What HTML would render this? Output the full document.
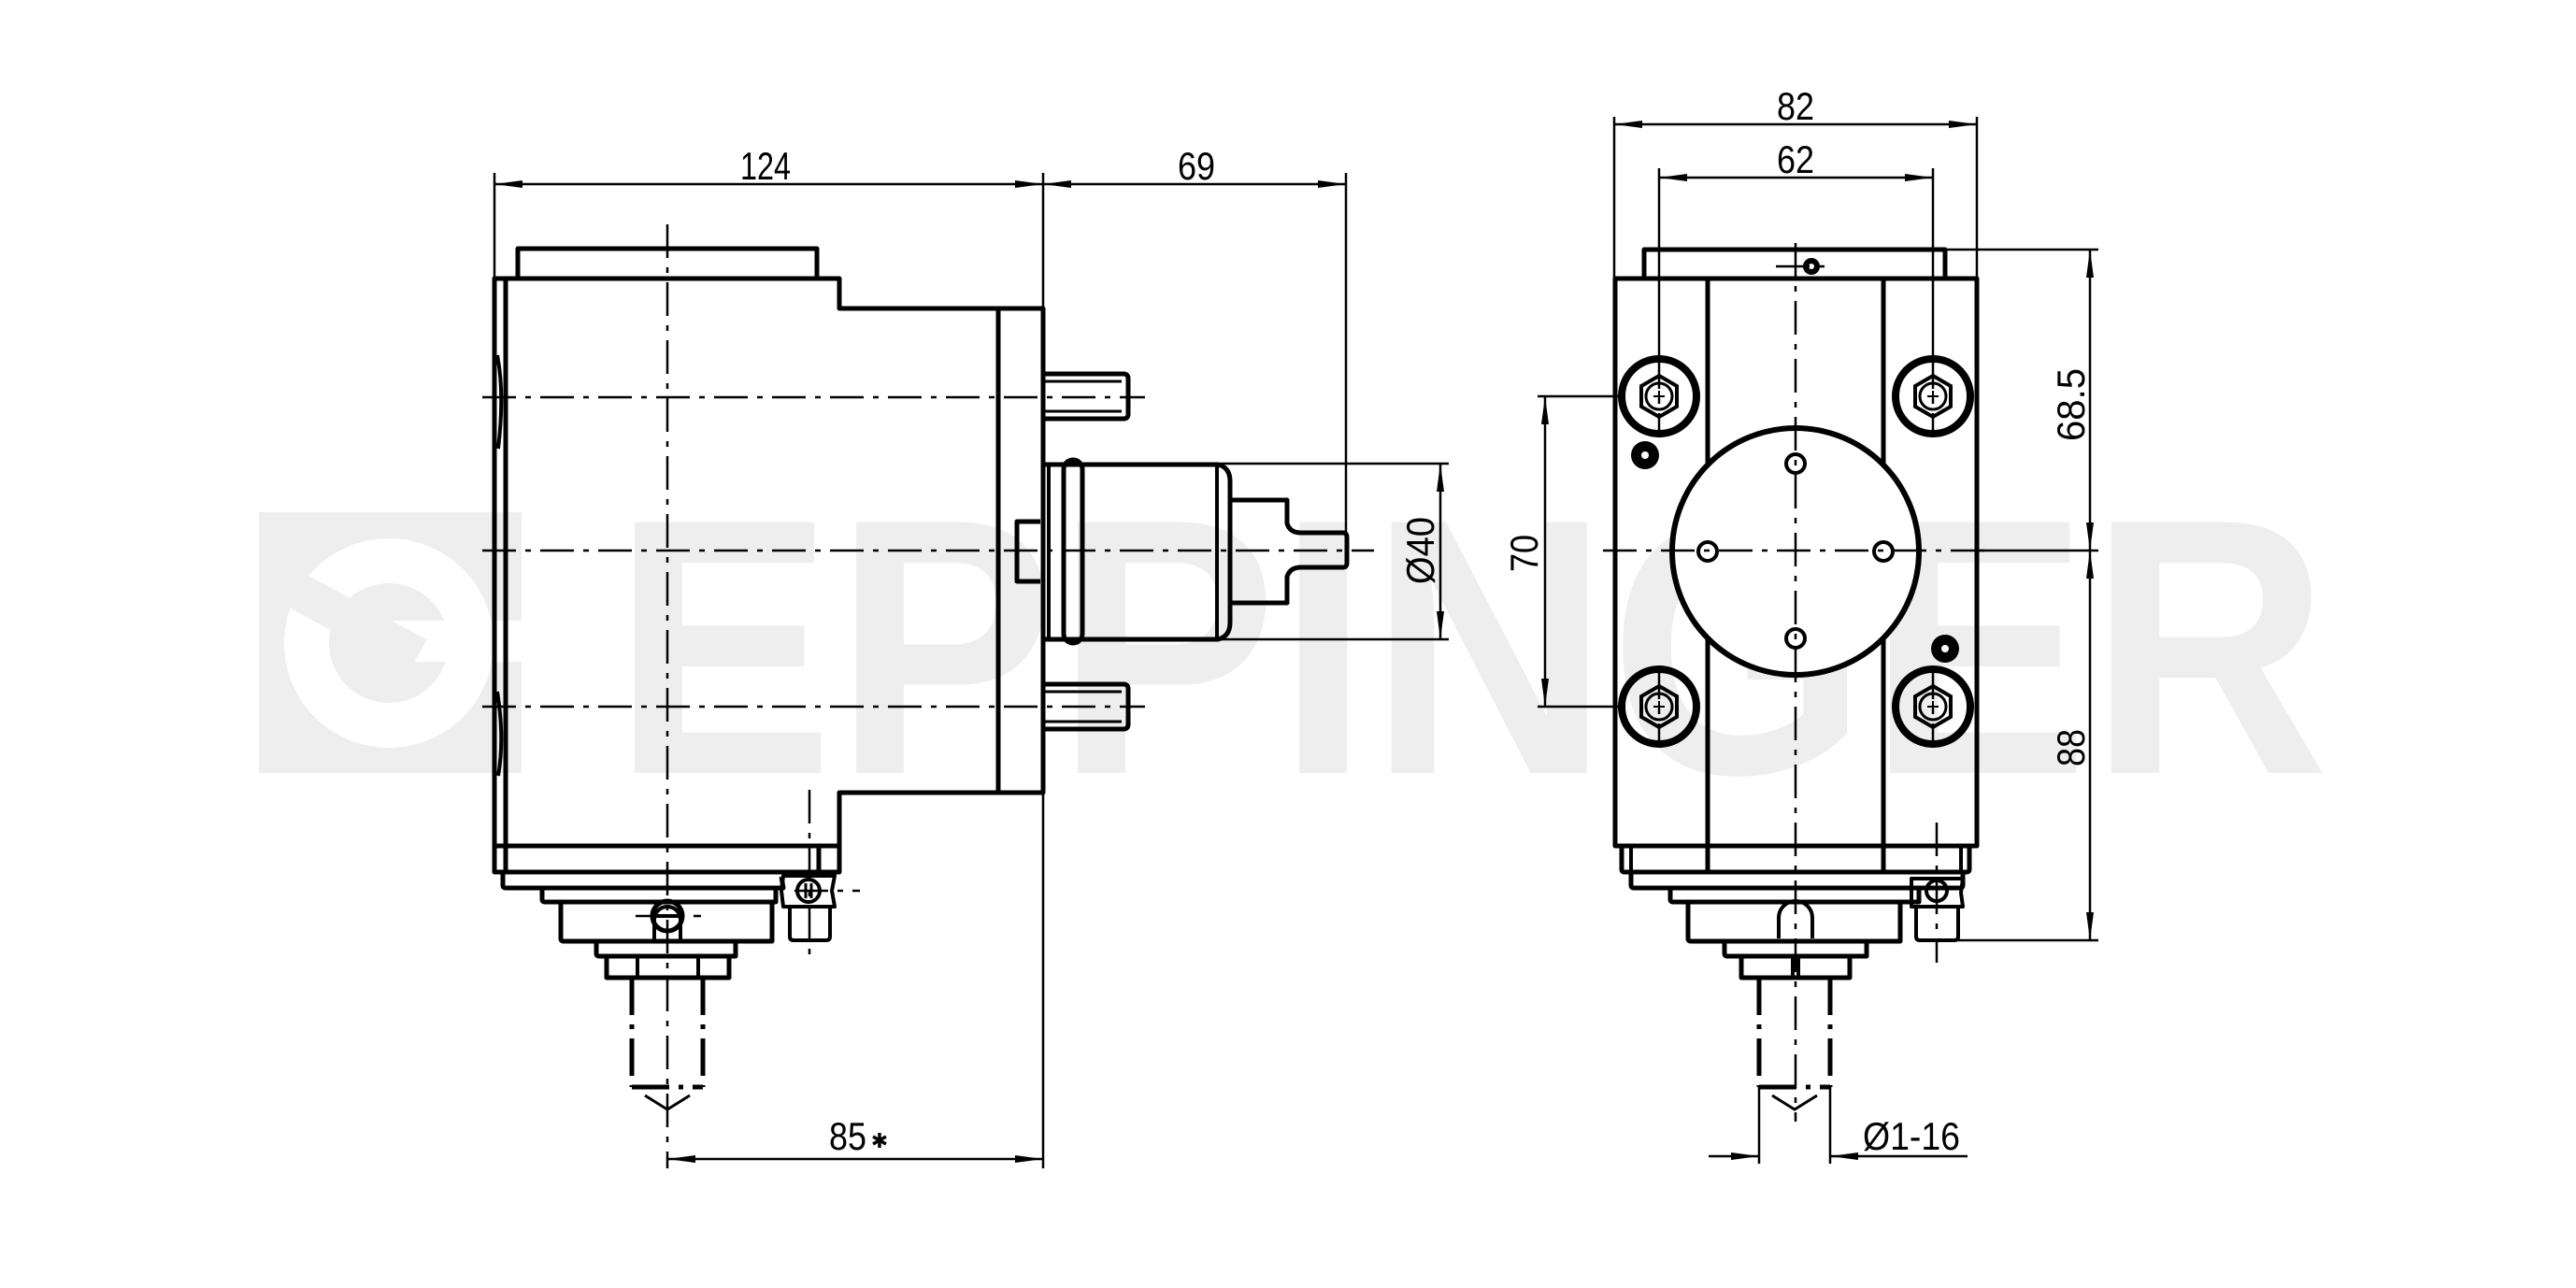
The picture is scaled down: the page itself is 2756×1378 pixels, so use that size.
<!DOCTYPE html>
<html><head><meta charset="utf-8"><style>
html,body{margin:0;padding:0;background:#fff;}
svg{display:block;}
text{font-family:"Liberation Sans",sans-serif;fill:#000;}
</style></head><body>
<svg width="2756" height="1378" viewBox="0 0 2756 1378" xmlns="http://www.w3.org/2000/svg">
<defs>
<marker id="a" viewBox="0 0 30 10" refX="30" refY="5" markerWidth="30" markerHeight="10" markerUnits="userSpaceOnUse" orient="auto-start-reverse"><path d="M0,1 L30,5 L0,9 z" fill="#000"/></marker>
</defs>
<!-- watermark -->
<rect x="277" y="548" width="281" height="279" fill="#eeeeee"/>
<circle cx="416" cy="688" r="88" fill="none" stroke="#fff" stroke-width="48"/>
<rect x="417" y="664" width="141" height="44" fill="#fff"/>
<line x1="318" y1="632" x2="447" y2="702" stroke="#eeeeee" stroke-width="40"/>
<text x="655" y="827" font-size="390" font-weight="bold" fill="#eeeeee" style="fill:#eeeeee" textLength="1837" lengthAdjust="spacingAndGlyphs">EPPINGER</text>

<g fill="none" stroke="#000" stroke-width="5" stroke-linejoin="round">
<!-- LEFT VIEW -->
<rect x="554" y="266" width="320" height="32"/>
<path d="M529,298 H898 V330 H1116 V848 H898 V933 H529 Z"/>
<line x1="541" y1="298" x2="541" y2="933"/>
<line x1="1068" y1="330" x2="1068" y2="848"/>
<line x1="529" y1="905" x2="898" y2="905"/>
<line x1="876" y1="905" x2="876" y2="933"/>
<path d="M532,380 Q540,420 533,480 M532,740 Q540,790 533,830" stroke-width="4"/>
<!-- pins -->
<path d="M1116,400 H1202 Q1207,400 1207,405 V443 Q1207,448 1202,448 H1116"/>
<line x1="1116" y1="408" x2="1200" y2="408" stroke-width="3"/>
<line x1="1116" y1="440" x2="1200" y2="440" stroke-width="3"/>
<path d="M1116,732 H1202 Q1207,732 1207,737 V775 Q1207,780 1202,780 H1116"/>
<line x1="1116" y1="740" x2="1200" y2="740" stroke-width="3"/>
<line x1="1116" y1="772" x2="1200" y2="772" stroke-width="3"/>
<!-- key -->
<path d="M1113,558 H1088 V622 H1113"/>
<!-- motor -->
<path d="M1116,497 H1303 Q1316,500 1316,515 V666 Q1316,681 1303,684 H1116"/>
<line x1="1122" y1="497" x2="1122" y2="684" stroke-width="4"/>
<rect x="1138" y="492" width="20" height="196" rx="10"/>
<line x1="1302" y1="497" x2="1302" y2="684" stroke-width="4"/>
<path d="M1316,535 H1377 V560 Q1380,570 1392,570 H1437 Q1441,570 1441,575 V602 Q1441,607 1437,607 H1392 Q1380,607 1377,617 V645 H1316"/>
<!-- bottom left -->
<path d="M538,933 V947 Q538,950 541,950 H838 L836,938"/>
<path d="M580,950 V962 Q580,965 583,965 H830 V950"/>
<path d="M600,965 V1004 Q600,1007 603,1007 H826 V965"/>
<path d="M638,1007 V1020 Q638,1023 641,1023 H787 V1007"/>
<rect x="649" y="1023" width="131" height="23"/>
<line x1="682" y1="1023" x2="682" y2="1046" stroke-width="4"/>
<line x1="747" y1="1023" x2="747" y2="1046" stroke-width="4"/>
<path d="M700,1007 V984 A14,14 0 0 1 728,984 V1007" stroke-width="4"/>
<circle cx="714" cy="980" r="16"/>
<line x1="702" y1="980" x2="726" y2="980" stroke-width="4"/>
<path d="M838,937 H893 L890,953 L893,970 H838 L836,953 Z" stroke-width="4"/>
<circle cx="865" cy="953" r="12" stroke-width="4"/>
<line x1="862" y1="945" x2="862" y2="961" stroke-width="3"/>
<line x1="868" y1="945" x2="868" y2="961" stroke-width="3"/>
<path d="M845,970 V1002 Q845,1006 849,1006 H884 Q888,1006 888,1002 V970" stroke-width="4"/>

<!-- RIGHT VIEW -->
<rect x="1759" y="267" width="322" height="31"/>
<rect x="1728" y="298" width="387" height="607"/>
<line x1="1827" y1="298" x2="1827" y2="933"/>
<line x1="2015" y1="298" x2="2015" y2="933"/>
<path d="M1735,905 V930 Q1735,933 1738,933 H2104 Q2107,933 2107,930 V905"/>
<line x1="1745" y1="905" x2="1745" y2="933" stroke-width="4"/>
<line x1="2098" y1="905" x2="2098" y2="933" stroke-width="4"/>
<path d="M1745,933 V947 Q1745,950 1748,950 H2097 Q2100,950 2100,947 V933"/>
<path d="M1787,950 V962 Q1787,965 1790,965 H2053 V950"/>
<path d="M1806,965 V1004 Q1806,1007 1809,1007 H2033 V965"/>
<path d="M1903,1004 V982 A18,18 0 0 1 1939,982 V1004" stroke-width="4"/>
<path d="M1845,1007 V1020 Q1845,1023 1848,1023 H1997 V1007"/>
<rect x="1863" y="1023" width="116" height="23"/>
<line x1="1918" y1="1023" x2="1918" y2="1046" stroke-width="4"/>
<line x1="1924" y1="1023" x2="1924" y2="1046" stroke-width="4"/>
<path d="M2045,940 H2100 L2098,955 L2100,970 H2045 Z" stroke-width="4"/>
<circle cx="2072" cy="953" r="11" stroke-width="4"/>
<path d="M2050,970 V1002 Q2050,1006 2054,1006 H2091 Q2095,1006 2095,1002 V970" stroke-width="4"/>
<!-- big circle -->
<circle cx="1921" cy="590" r="132" fill="#fff" stroke-width="6"/>
<g stroke-width="4">
<circle cx="1921" cy="496" r="10"/><circle cx="1921" cy="683" r="10"/>
<circle cx="1827" cy="590" r="10"/><circle cx="2015" cy="590" r="10"/>
</g>
</g>
<!-- bolts -->
<g fill="none" stroke="#000">
<g id="b1" transform="translate(1775,424)">
<circle r="40" stroke-width="8"/>
<polygon points="0,-22 19,-11 19,11 0,22 -19,11 -19,-11" stroke-width="4"/>
<circle r="14" stroke-width="3"/>
<path d="M-6,0 H6 M0,-6 V6" stroke-width="2"/>
</g>
<use href="#b1" x="293" y="0"/>
<use href="#b1" x="0" y="332"/>
<use href="#b1" x="293" y="332"/>
</g>
<circle cx="1760" cy="487" r="15" fill="#000"/><circle cx="1760" cy="487" r="4" fill="#fff"/>
<circle cx="2081" cy="694" r="15" fill="#000"/><circle cx="2081" cy="694" r="4" fill="#fff"/>
<circle cx="1938" cy="285" r="9" fill="#000"/><circle cx="1938" cy="285" r="3" fill="#fff"/>

<!-- tools dashed -->
<g fill="none" stroke="#000" stroke-width="5" stroke-dasharray="40,10,5,10">
<line x1="676" y1="1046" x2="676" y2="1163"/><line x1="752" y1="1046" x2="752" y2="1163"/>
<line x1="676" y1="1163" x2="752" y2="1163"/>
<line x1="1882" y1="1046" x2="1882" y2="1163"/><line x1="1958" y1="1046" x2="1958" y2="1163"/>
<line x1="1882" y1="1163" x2="1958" y2="1163"/>
</g>
<path d="M690,1172 L714,1187 L738,1172 M1896,1172 L1920,1187 L1944,1172" fill="none" stroke="#000" stroke-width="3"/>

<!-- centerlines -->
<g stroke="#000" stroke-width="2.5" stroke-dasharray="36,10,6,10" fill="none">
<line x1="714" y1="240" x2="714" y2="1250"/>
<line x1="516" y1="425" x2="1225" y2="425"/>
<line x1="516" y1="589" x2="1470" y2="589"/>
<line x1="516" y1="756" x2="1225" y2="756"/>
<line x1="1921" y1="260" x2="1921" y2="1200"/>
<line x1="1715" y1="589" x2="2130" y2="589"/>
<line x1="866" y1="845" x2="866" y2="1030"/>
<line x1="2072" y1="880" x2="2072" y2="1030"/>
<line x1="1900" y1="285" x2="1962" y2="285"/>
<line x1="1775" y1="380" x2="1775" y2="468"/><line x1="2068" y1="380" x2="2068" y2="468"/>
<line x1="1775" y1="712" x2="1775" y2="800"/><line x1="2068" y1="712" x2="2068" y2="800"/>
<line x1="680" y1="980" x2="750" y2="980"/>
<line x1="850" y1="953" x2="920" y2="953"/>
</g>

<!-- dimension lines -->
<g stroke="#000" stroke-width="2.5" fill="none">
<line x1="529" y1="185" x2="529" y2="298"/>
<line x1="1116" y1="185" x2="1116" y2="1250"/>
<line x1="1440" y1="185" x2="1440" y2="570"/>
<line x1="529" y1="197" x2="1116" y2="197" marker-start="url(#a)" marker-end="url(#a)"/>
<line x1="1116" y1="197" x2="1440" y2="197" marker-start="url(#a)" marker-end="url(#a)"/>
<line x1="714" y1="1240" x2="1116" y2="1240" marker-start="url(#a)" marker-end="url(#a)"/>
<line x1="1303" y1="496" x2="1550" y2="496"/><line x1="1303" y1="684" x2="1550" y2="684"/>
<line x1="1541" y1="496" x2="1541" y2="684" marker-start="url(#a)" marker-end="url(#a)"/>

<line x1="1727" y1="125" x2="1727" y2="298"/><line x1="2115" y1="125" x2="2115" y2="298"/>
<line x1="1727" y1="133" x2="2115" y2="133" marker-start="url(#a)" marker-end="url(#a)"/>
<line x1="1775" y1="180" x2="1775" y2="380"/><line x1="2068" y1="180" x2="2068" y2="380"/>
<line x1="1775" y1="190" x2="2068" y2="190" marker-start="url(#a)" marker-end="url(#a)"/>
<line x1="2081" y1="267" x2="2245" y2="267"/><line x1="2115" y1="589" x2="2245" y2="589"/><line x1="2095" y1="1006" x2="2245" y2="1006"/>
<line x1="2236" y1="267" x2="2236" y2="589" marker-start="url(#a)" marker-end="url(#a)"/>
<line x1="2236" y1="589" x2="2236" y2="1006" marker-start="url(#a)" marker-end="url(#a)"/>
<line x1="1645" y1="424" x2="1735" y2="424"/><line x1="1645" y1="756" x2="1735" y2="756"/>
<line x1="1653" y1="424" x2="1653" y2="756" marker-start="url(#a)" marker-end="url(#a)"/>
<line x1="1882" y1="1163" x2="1882" y2="1245"/><line x1="1958" y1="1163" x2="1958" y2="1245"/>
<line x1="1828" y1="1237" x2="1882" y2="1237" marker-end="url(#a)"/>
<line x1="2105" y1="1237" x2="1958" y2="1237" marker-end="url(#a)"/>
</g>

<!-- labels -->
<g font-size="42">
<text x="819" y="192" text-anchor="middle" textLength="54" lengthAdjust="spacingAndGlyphs">124</text>
<text x="1280" y="192" text-anchor="middle" textLength="40" lengthAdjust="spacingAndGlyphs">69</text>
<text x="907" y="1230" text-anchor="middle" textLength="40" lengthAdjust="spacingAndGlyphs">85</text>
<text x="941" y="1228" font-size="22" text-anchor="middle">✱</text>
<text x="1921" y="128" text-anchor="middle" textLength="40" lengthAdjust="spacingAndGlyphs">82</text>
<text x="1921" y="185" text-anchor="middle" textLength="40" lengthAdjust="spacingAndGlyphs">62</text>
<text transform="translate(1534,589) rotate(-90)" text-anchor="middle" textLength="72" lengthAdjust="spacingAndGlyphs">Ø40</text>
<text transform="translate(1655,592) rotate(-90)" text-anchor="middle" textLength="40" lengthAdjust="spacingAndGlyphs" dy="-10">70</text>
<text transform="translate(2230,433) rotate(-90)" text-anchor="middle" textLength="78" lengthAdjust="spacingAndGlyphs">68.5</text>
<text transform="translate(2230,800) rotate(-90)" text-anchor="middle" textLength="40" lengthAdjust="spacingAndGlyphs">88</text>
<text x="1993" y="1230" textLength="104" lengthAdjust="spacingAndGlyphs">Ø1-16</text>
</g>
</svg>
</body></html>
